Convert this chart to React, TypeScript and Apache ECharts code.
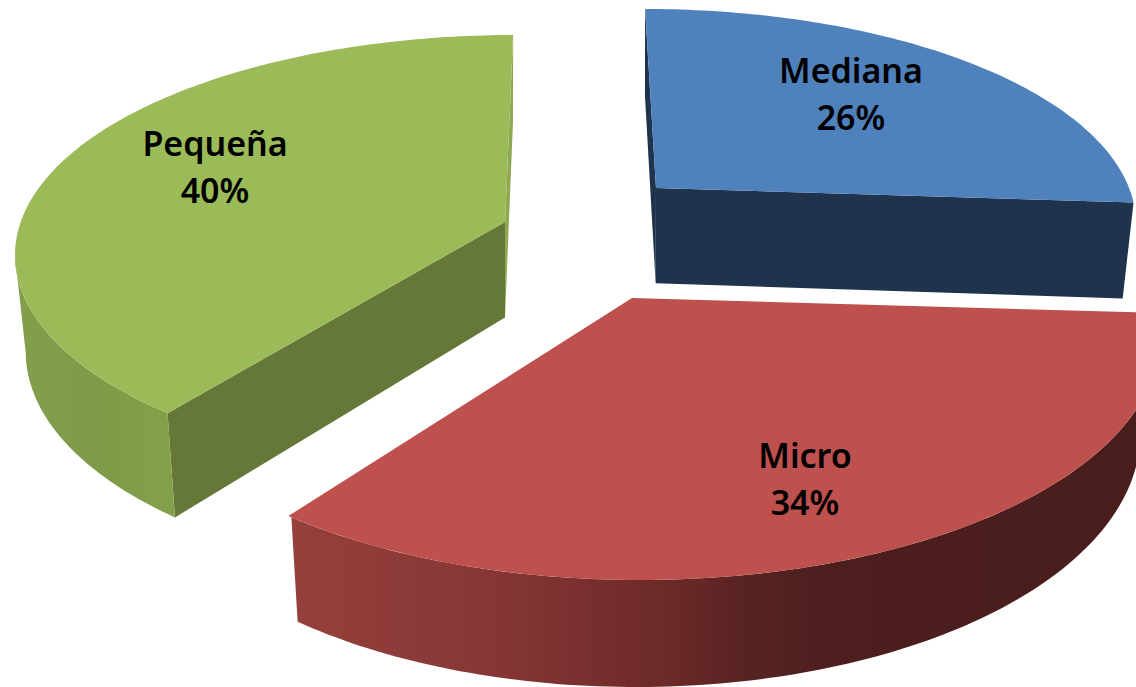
import React, { useEffect, useRef } from "react";
import * as echarts from "echarts";

// Data
const categories = ["Mediana", "Micro", "Pequeña"];
const shares = [26, 34, 40];

// Colours
const topColors = ["#4F81BD", "#BE504D", "#9BBB59"];
const startWallColors = ["#1F334D", "#4A1D1D", "#667838"];
const endWallColors = ["#1F334D", "#4A1D1D", "#8FA852"];
const sideStops: [number, string][][] = [
  [[0, "#1F334D"], [1, "#1F334D"]],
  [[0, "#96403D"], [0.25, "#853634"], [0.45, "#6B2928"], [0.55, "#552322"], [0.65, "#4C1E1E"], [1, "#4A1D1D"]],
  [[0, "#849F4C"], [0.5, "#7F9A48"], [1, "#83A04A"]],
];
const labelColor = "#000000";

// Layout (pixels): each exploded slice sits on its own rim ellipse (ex, ey, a, b)
// with its apex (x, y) inside it, as a circle seen in perspective.
const WIDTH = 1136;
const HEIGHT = 687;
const geometry = [
  { x: 656, y: 188, ex: 645, ey: 224, a: 491, b: 215, bx: 640, shrink: 0.022, startTweak: -1.4, endTweak: 0.3 },
  { x: 632, y: 298, ex: 640, ey: 337, a: 520, b: 243, bx: 500, shrink: 0.03, startTweak: 0, endTweak: 0 },
  { x: 505, y: 222, ex: 515, ey: 255, a: 500, b: 220, bx: 505, shrink: 0.022, startTweak: 1.5, endTweak: 1 },
];
const labelAt = [
  { x: 851, y: 93 },
  { x: 805, y: 478 },
  { x: 215, y: 166 },
];
const FONT = '600 34px "Noto Sans", "DejaVu Sans", sans-serif';

type P = [number, number];

function toScreen(i: number, nx: number, ny: number): { top: P; bot: P } {
  const g = geometry[i];
  const x = g.ex + g.a * nx;
  const y = g.ey - g.b * ny;
  const drop = 97 - 10 * ny;
  return { top: [x, y], bot: [x + (g.bx - x) * g.shrink, y + drop] };
}

// Rim point for a pie angle: the disc map that sends the pie's centre to the apex
function project(i: number, deg: number): { top: P; bot: P } {
  const g = geometry[i];
  const wx = (g.x - g.ex) / g.a;
  const wy = (g.ey - g.y) / g.b;
  const f = 1 + Math.sqrt(1 - wx * wx - wy * wy);
  const qx = wx / f;
  const qy = wy / f;
  const t = (deg * Math.PI) / 180;
  const zx = Math.sin(t);
  const zy = Math.cos(t);
  const nx = zx + qx;
  const ny = zy + qy;
  const dx = 1 + qx * zx + qy * zy;
  const dy = qx * zy - qy * zx;
  const m = dx * dx + dy * dy;
  return toScreen(i, (nx * dx + ny * dy) / m, (ny * dx - nx * dy) / m);
}

function apex(i: number): { top: P; bot: P } {
  const g = geometry[i];
  return toScreen(i, (g.x - g.ex) / g.a, (g.ey - g.y) / g.b);
}

function arc(i: number, from: number, to: number, key: "top" | "bot"): P[] {
  const n = Math.max(2, Math.ceil(Math.abs(to - from)));
  const out: P[] = [];
  for (let k = 0; k <= n; k++) out.push(project(i, from + ((to - from) * k) / n)[key]);
  return out;
}

function renderSlice(params: any, api: any) {
  const i = params.dataIndex;
  const g = geometry[i];
  const total = shares.reduce((s, v) => s + v, 0);
  let before = 0;
  for (let k = 0; k < i; k++) before += shares[k];
  const start = (before / total) * 360 + g.startTweak;
  const end = ((before + api.value(0)) / total) * 360 + g.endTweak;

  const ap = apex(i);
  const children: any[] = [];

  const wall = (deg: number, fill: string) => {
    const e = project(i, deg);
    children.push({
      type: "polygon",
      shape: { points: [ap.top, e.top, e.bot, ap.bot] },
      style: { fill },
    });
  };
  // walls turned toward the viewer
  if (i !== 1) {
    wall(start, startWallColors[i]);
    wall(end, endWallColors[i]);
  }

  // outer rim facing the viewer: front part of the arc, from its rightmost to its leftmost point
  let rimFrom = -1;
  let rimTo = -1;
  let maxX = -Infinity;
  let minX = Infinity;
  for (let d = start; d <= end; d += 0.5) {
    const pt = project(i, d).top;
    if (pt[1] < g.ey) continue;
    if (pt[0] > maxX) {
      maxX = pt[0];
      rimFrom = d;
    }
    if (pt[0] < minX) {
      minX = pt[0];
      rimTo = d;
    }
  }
  if (rimTo > rimFrom) {
    const topArc = arc(i, rimFrom, rimTo, "top");
    const botArc = arc(i, rimFrom, rimTo, "bot").reverse();
    const xs = topArc.map((p) => p[0]);
    const x0 = i === 1 ? 290 : Math.min(...xs);
    const x1 = i === 1 ? 1136 : Math.max(...xs);
    children.push({
      type: "polygon",
      shape: { points: [...topArc, ...botArc] },
      style: {
        fill: new echarts.graphic.LinearGradient(
          x0, 0, x1, 0,
          sideStops[i].map(([offset, color]) => ({ offset, color })),
          true
        ),
      },
    });
  }

  // top face
  children.push({
    type: "polygon",
    shape: { points: [ap.top, ...arc(i, start, end, "top")] },
    style: { fill: topColors[i] },
  });

  children.push({
    type: "text",
    x: labelAt[i].x,
    y: labelAt[i].y,
    style: {
      text: `${categories[i]}\n${Math.round(api.value(0))}%`,
      font: FONT,
      fill: labelColor,
      align: "center",
      verticalAlign: "middle",
      lineHeight: 47,
    },
  });

  return { type: "group", children };
}

export default function App() {
  const ref = useRef<HTMLDivElement>(null);
  useEffect(() => {
    document.body.style.margin = "0";
    const chart = echarts.init(ref.current!, undefined, { renderer: "svg" });
    chart.setOption({
      animation: false,
      backgroundColor: "#FFFFFF",
      series: [
        {
          type: "custom",
          coordinateSystem: "none",
          renderItem: renderSlice,
          data: categories.map((name, i) => ({ name, value: [shares[i]] })),
        },
      ],
    });
    return () => chart.dispose();
  }, []);
  return <div ref={ref} style={{ width: WIDTH, height: HEIGHT }} />;
}
